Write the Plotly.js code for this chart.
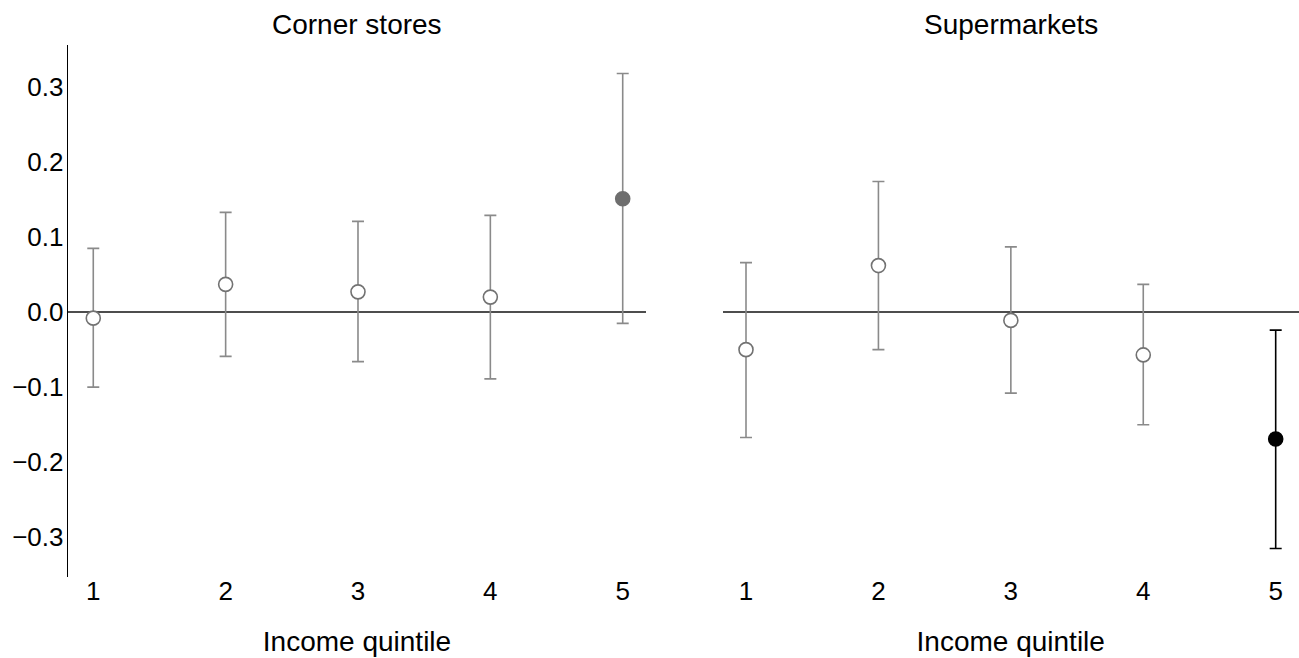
<!DOCTYPE html>
<html>
<head>
<meta charset="utf-8">
<script src="https://cdn.plot.ly/plotly-3.0.1.min.js"></script>
<style>
  html, body { margin: 0; padding: 0; background: #fff; }
  #chart { width: 1299px; height: 658px; }
</style>
</head>
<body>
<div id="chart"></div>
<script>
// Income quintiles on the x axis
const quintiles = [1, 2, 3, 4, 5];
const quintileLabels = ['1', '2', '3', '4', '5'];

// Corner stores: point estimates and confidence bounds
const cornerEst = [-0.008, 0.037, 0.027, 0.020, 0.151];
const cornerLo  = [-0.100, -0.059, -0.066, -0.089, -0.015];
const cornerHi  = [0.085, 0.133, 0.121, 0.129, 0.318];

// Supermarkets: point estimates and confidence bounds
const superEst = [-0.050, 0.062, -0.011, -0.057, -0.169];
const superLo  = [-0.167, -0.050, -0.108, -0.150, -0.315];
const superHi  = [0.066, 0.174, 0.087, 0.037, -0.024];

const yTicks = [-0.3, -0.2, -0.1, 0.0, 0.1, 0.2, 0.3];

const FONT = 'Liberation Sans, Arial, Helvetica, sans-serif';
const GREY_BAR = '#8a8a8a';
const GREY_RING = '#727272';

function pointTrace(xs, est, lo, hi, idx, opts) {
  const x = idx.map(i => xs[i]);
  const y = idx.map(i => est[i]);
  return {
    type: 'scatter', mode: 'markers',
    x: x, y: y,
    xaxis: opts.xaxis, yaxis: opts.yaxis,
    marker: {
      symbol: 'circle', size: 14,
      color: opts.fill,
      line: { color: opts.ring, width: 1.6 }
    },
    error_y: {
      type: 'data', symmetric: false,
      array: idx.map(i => hi[i] - est[i]),
      arrayminus: idx.map(i => est[i] - lo[i]),
      color: opts.bar, thickness: 1.6, width: 6
    },
    hoverinfo: 'x+y'
  };
}

const openIdx = [0, 1, 2, 3];
const sigIdx = [4];

const traces = [
  pointTrace(quintiles, cornerEst, cornerLo, cornerHi, openIdx,
    { xaxis: 'x', yaxis: 'y', fill: '#ffffff', ring: GREY_RING, bar: GREY_BAR }),
  pointTrace(quintiles, cornerEst, cornerLo, cornerHi, sigIdx,
    { xaxis: 'x', yaxis: 'y', fill: '#6e6e6e', ring: '#6e6e6e', bar: GREY_BAR }),
  pointTrace(quintiles, superEst, superLo, superHi, openIdx,
    { xaxis: 'x2', yaxis: 'y2', fill: '#ffffff', ring: GREY_RING, bar: GREY_BAR }),
  pointTrace(quintiles, superEst, superLo, superHi, sigIdx,
    { xaxis: 'x2', yaxis: 'y2', fill: '#000000', ring: '#000000', bar: '#000000' })
];

const W = 1299;
const leftDomain = [68 / W, 646 / W];
const rightDomain = [722.5 / W, 1];
const yRange = [-0.353, 0.356];

function xAxis(domain, range, anchor) {
  return {
    domain: domain, range: range, anchor: anchor,
    tickmode: 'array', tickvals: quintiles, ticktext: quintileLabels,
    showgrid: false, zeroline: false, showline: false,
    ticks: '', ticklabelstandoff: -4,
    tickfont: { family: FONT, size: 26, color: '#000' },
    title: { text: 'Income quintile', font: { family: FONT, size: 28, color: '#000' }, standoff: 26 }
  };
}

const layout = {
  width: 1299, height: 658,
  margin: { l: 0, r: 0, t: 45, b: 81 },
  paper_bgcolor: '#ffffff', plot_bgcolor: '#ffffff',
  showlegend: false,
  font: { family: FONT, color: '#000' },
  xaxis: xAxis(leftDomain, [0.809, 5.176], 'y'),
  xaxis2: xAxis(rightDomain, [0.8225, 5.176], 'y2'),
  yaxis: {
    domain: [0, 1], range: yRange, anchor: 'x',
    tickmode: 'array', tickvals: yTicks, tickformat: '.1f',
    showgrid: false,
    zeroline: true, zerolinecolor: '#4d4d4d', zerolinewidth: 1.5,
    showline: true, linecolor: '#000', linewidth: 1.3,
    ticks: '', ticklabelstandoff: -2,
    tickfont: { family: FONT, size: 26, color: '#000' }
  },
  yaxis2: {
    domain: [0, 1], range: yRange, anchor: 'x2',
    showticklabels: false, showgrid: false, showline: false, ticks: '',
    zeroline: true, zerolinecolor: '#4d4d4d', zerolinewidth: 1.5
  },
  annotations: [
    { text: 'Corner stores', xref: 'paper', yref: 'paper',
      x: (leftDomain[0] + leftDomain[1]) / 2, y: 1 + 20 / 532,
      xanchor: 'center', yanchor: 'middle', showarrow: false,
      font: { family: FONT, size: 28, color: '#000' } },
    { text: 'Supermarkets', xref: 'paper', yref: 'paper',
      x: (rightDomain[0] + rightDomain[1]) / 2, y: 1 + 20 / 532,
      xanchor: 'center', yanchor: 'middle', showarrow: false,
      font: { family: FONT, size: 28, color: '#000' } }
  ]
};

Plotly.newPlot('chart', traces, layout, { displayModeBar: false, staticPlot: true });
</script>
</body>
</html>
